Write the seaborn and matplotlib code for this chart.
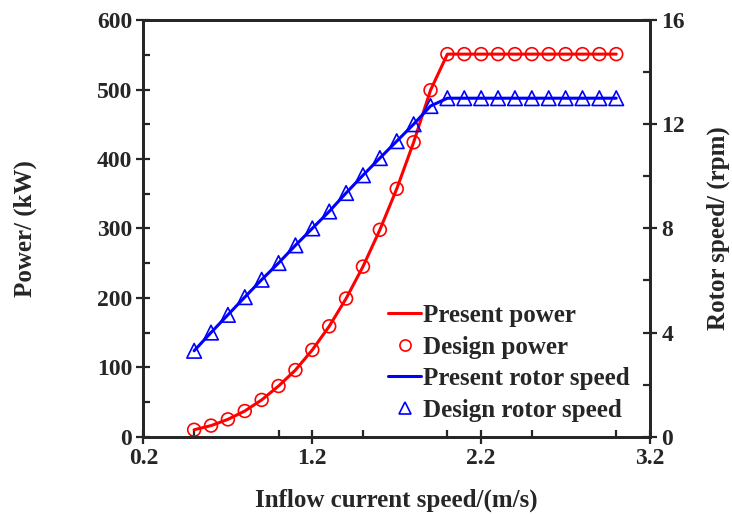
import matplotlib
matplotlib.use("Agg")
import matplotlib.pyplot as plt
from matplotlib.lines import Line2D
from matplotlib.ticker import MultipleLocator
import pandas as pd
import seaborn as sns

# %% Data
inflow_speed = [0.5, 0.6, 0.7, 0.8, 0.9, 1.0, 1.1, 1.2, 1.3, 1.4, 1.5, 1.6, 1.7,
                1.8, 1.9, 2.0, 2.1, 2.2, 2.3, 2.4, 2.5, 2.6, 2.7, 2.8, 2.9, 3.0]
design_power = [10, 16, 25, 37, 53, 73, 96, 125, 159, 199, 245, 298, 357,
                424, 499, 551, 551, 551, 551, 551, 551, 551, 551, 551, 551, 551]
present_power = design_power
design_rotor = [3.3, 4.0, 4.68, 5.36, 6.03, 6.67, 7.35, 8.0, 8.65, 9.36, 10.04, 10.7, 11.35,
                12.0, 12.7, 13.0, 13.0, 13.0, 13.0, 13.0, 13.0, 13.0, 13.0, 13.0, 13.0, 13.0]
present_rotor = design_rotor

df = pd.DataFrame({
    "speed": inflow_speed,
    "present_power": present_power,
    "design_power": design_power,
    "present_rotor": present_rotor,
    "design_rotor": design_rotor,
})

RED = "#ff0000"
BLUE = "#0000ff"
FS = 18

sns.set_style("ticks")
plt.rcParams["font.family"] = ["Liberation Serif", "DejaVu Serif"]
plt.rcParams["font.weight"] = "bold"
plt.rcParams["axes.labelweight"] = "bold"

fig = plt.figure(figsize=(7.32, 5.15), dpi=100)
ax = fig.add_axes([0.196, 0.152, 0.692, 0.809])
ax2 = ax.twinx()

sns.lineplot(data=df, x="speed", y="present_power", ax=ax, color=RED, linewidth=2.2)
sns.scatterplot(data=df, x="speed", y="design_power", ax=ax, marker="o", s=85,
                fc="none", ec=RED, linewidth=1.2, zorder=3)
sns.lineplot(data=df, x="speed", y="present_rotor", ax=ax2, color=BLUE, linewidth=2.2)
sns.scatterplot(data=df, x="speed", y="design_rotor", ax=ax2, marker="^", s=110,
                fc="none", ec=BLUE, linewidth=1.2, zorder=3)

ax.set_xlim(0.2, 3.2)
ax.set_ylim(0, 600)
ax2.set_ylim(0, 16)
ax.xaxis.set_minor_locator(MultipleLocator(0.5))
ax.yaxis.set_major_locator(MultipleLocator(100))
ax.yaxis.set_minor_locator(MultipleLocator(50))
ax2.yaxis.set_major_locator(MultipleLocator(4))
ax2.yaxis.set_minor_locator(MultipleLocator(2))
ax.set_xticks([0.2, 1.2, 2.2, 3.2])
ax.set_xticklabels(["0.2", "1.2", "2.2", "3.2"])

for a in (ax, ax2):
    for s in a.spines.values():
        s.set_linewidth(2.0)
    a.tick_params(which="major", direction="inout", length=10, width=1.6, labelsize=17, pad=3)
    a.tick_params(which="minor", direction="in", length=5, width=1.6)
ax.tick_params(axis="x", which="both", top=False)
ax2.tick_params(axis="x", which="both", top=False, bottom=False)

ax.set_xlabel("Inflow current speed/(m/s)", fontsize=FS)
ax.set_ylabel("Power/ (kW)", fontsize=FS)
ax2.set_ylabel("Rotor speed/ (rpm)", fontsize=FS)
ax.xaxis.set_label_coords(0.5, -0.125)
ax.yaxis.set_label_coords(-0.21, 0.5)
ax2.yaxis.set_label_coords(1.112, 0.5)

handles = [
    Line2D([], [], color=RED, lw=2.2),
    Line2D([], [], color=RED, marker="o", ls="", mfc="none", ms=8, mew=1.2),
    Line2D([], [], color=BLUE, lw=2.2),
    Line2D([], [], color=BLUE, marker="^", ls="", mfc="none", ms=8, mew=1.2),
]
labels = ["Present power", "Design power", "Present rotor speed", "Design rotor speed"]
ax2.legend(handles, labels, loc="lower right", bbox_to_anchor=(1.0, -0.012), frameon=False,
           handlelength=1.3, handletextpad=0.1, labelspacing=0.34, borderpad=0.3,
           prop={"weight": "bold", "size": FS})

fig.savefig("out.png", dpi=100)
